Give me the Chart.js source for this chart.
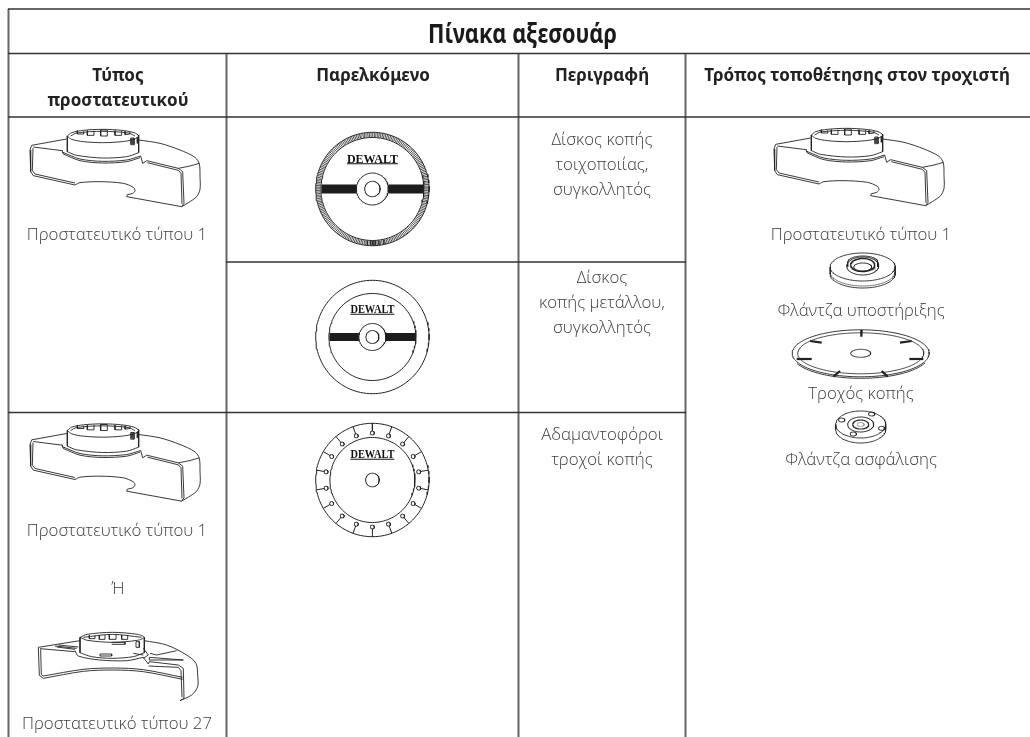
<!DOCTYPE html>
<html><head><meta charset="utf-8">
<style>html,body{margin:0;padding:0;background:#fff}canvas{display:block}</style>
<script src="https://cdn.jsdelivr.net/npm/chart.js@4"></script></head>
<body><canvas id="c" width="1030" height="737"></canvas>
<script>
// ---- table structure (axis values) ----
const tableTitle = "Πίνακα αξεσουάρ";
const headerLabels = ["Τύπος", "προστατευτικού", "Παρελκόμενο", "Περιγραφή", "Τρόπος τοποθέτησης στον τροχιστή"];
const bodyLabels = ["Προστατευτικό τύπου 1","Δίσκος κοπής","τοιχοποιίας,","συγκολλητός","Δίσκος","κοπής μετάλλου,","συγκολλητός","Αδαμαντοφόροι","τροχοί κοπής","Προστατευτικό τύπου 1","Ή","Προστατευτικό τύπου 27","Προστατευτικό τύπου 1","Φλάντζα υποστήριξης","Τροχός κοπής","Φλάντζα ασφάλισης"];
const bodyLabelX = [117,602,602,602,602,602,602,602,602,117,118,117,861,861,861,861];
const bodyLabelY = [240,145,170,195,283,308,333,440,465,536,594,729,240,316,399,465];
const headerLabelX = [118,118,373,602,857];
const headerLabelY = [81,106,81,81,81];
const verticalRules = [[8.5,9,737],[226.5,53,737],[518.5,53,737],[685.5,53,737]];
const horizontalRules = [[8,1030,9],[8,1030,53.5],[8,1030,117],[226,686,262],[8,686,412.5]];
const discCentres = [[372.4,189],[372.4,337],[372.4,480]];

// ---- outline traces, in 1/3 px units of the reference ----
const guardOneCurves = [
 [[202,455],[230,466],[308,474],[380,470],[416,458]],
 [[202,408],[215,398],[250,391],[308,388],[365,391],[402,398],[416,408],[402,418],[365,425],[308,428],[250,425],[215,418],[202,408]],
 [[212,408],[230,399],[308,394],[385,399],[405,408]],
 [[186,456],[240,477],[308,484],[380,480],[422,468]],
 [[190,462],[240,482],[308,489],[380,485],[420,473]],
 [[416,420],[480,430],[540,450],[585,472],[598,492],[600,530],[600,568],[590,590],[565,608],[545,620]],
 [[225,555],[240,548],[300,545],[370,550],[400,562],[405,572],[398,580],[382,584]],
 [[535,505],[570,498],[598,490]]
];
const guardOneEdges = [
 [[95,436],[200,417]],
 [[100,441],[186,452]],
 [[202,408],[202,455]],[[416,405],[416,458]],
 [[186,450],[190,462]],
 [[422,468],[428,490],[440,482],[535,505],[548,515],[552,610],[545,620]],
 [[442,488],[535,511],[543,520],[546,612]],
 [[95,436],[90,450],[92,515],[100,527],[225,555]],
 [[99,444],[97,512],[105,522],[225,549]],
 [[382,584],[380,590],[545,620]],
 [[232,392],[232,402],[252,402],[250,394]],[[262,392],[262,406],[282,406],[282,392]],[[302,390],[302,408],[322,408],[322,390],[302,390]],[[345,392],[345,406],[365,406],[365,392]],[[375,394],[375,404],[390,402],[390,396]],
 [[392,414],[402,414],[402,434],[392,434],[392,414]],[[396,416],[396,432]],[[412,412],[412,430]]
];
const guardTwentySevenCurves = [
 [[240,758],[275,770],[337,775],[400,770],[433,758]],
 [[240,712],[262,703],[337,697],[412,703],[433,712],[412,721],[337,727],[262,721],[240,712]],
 [[250,712],[337,703],[425,712]],
 [[225,752],[235,768],[300,780],[380,782],[430,772]],
 [[433,722],[500,735],[560,765],[588,790],[593,825],[593,860],[575,885],[540,902]],
 [[130,835],[250,814],[340,810],[430,815],[548,838]],
 [[130,828],[250,808],[340,804],[430,809],[548,832]]
];
const guardTwentySevenEdges = [
 [[115,742],[240,722]],
 [[120,746],[225,755]],
 [[240,712],[240,758]],[[433,712],[433,758]],
 [[430,772],[445,792],[448,785],[535,795],[550,805],[552,895],[540,902]],
 [[446,798],[535,802],[543,812],[546,892]],
 [[115,742],[118,826],[130,835]],
 [[122,748],[124,824],[130,828]],
 [[450,760],[470,765],[530,752]],[[448,772],[550,780],[448,780],[448,772]],[[430,745],[445,765],[430,775]],
 [[165,738],[230,745]],[[175,735],[235,741]],[[170,741],[225,748]],[[400,760],[430,765]],[[300,762],[335,762],[335,768],[300,768],[300,762]],[[335,727],[375,727],[375,733],[335,733]],
 [[268,706],[268,716],[285,716],[285,706]],[[298,705],[298,718],[315,718],[315,705]],[[328,704],[328,718],[348,718],[348,704]],[[365,705],[365,718],[383,718],[383,705]],
 [[408,725],[418,725],[418,742],[408,742],[408,725]]
];
const wheelSlots = [[[425,660],[424,680]],[[270,693],[305,698]],[[575,693],[540,698]],[[230,747],[275,747]],[[610,747],[568,747]],[[340,800],[360,783]],[[503,800],[485,783]]];
const lockHoles = [[365,930],[455,912],[485,955],[400,972]];
const notchAngles = [-90,-70,-50,-30,-10,10,30,50,70,90,110,130,150,170,190,210,230,250];
const logoLabel = "DEWALT";
const logoBoxes = [[372.4,162.5,51],[372.4,313,44],[372.4,458,44]];

// ---- building helpers ----
const GAP = {x:NaN,y:NaN};
const sets = [];
function add(points, width, color, tension){
  sets.push({data:points, showLine:true, borderColor:color||'#222', borderWidth:width||1,
    pointRadius:0, tension:tension||0, fill:false, borderCapStyle:'butt'});
}
function ell(cx,cy,rx,ry,a0,a1){
  const p=[]; a0=a0===undefined?0:a0; a1=a1===undefined?360:a1;
  for(let a=a0;a<=a1;a+=3){const t=a*Math.PI/180;p.push({x:cx+rx*Math.cos(t),y:cy+ry*Math.sin(t)});}
  return p;
}
function trace(list,dx,dy,w,t){
  list.forEach(l=>add(l.map(q=>({x:q[0]/3+dx,y:q[1]/3+dy})),w||0.9,'#222',t));
}
horizontalRules.forEach(r=>add([{x:r[0],y:r[2]},{x:r[1],y:r[2]}],1.3,'#333'));
verticalRules.forEach(r=>add([{x:r[0],y:r[1]},{x:r[0],y:r[2]}],2,'#666'));
// disc 1
(function(){const [cx,cy]=discCentres[0];
 add(ell(cx,cy,56.7,56.7),1); add(ell(cx,cy,51.5,51.5),1); add(ell(cx,cy,16,16),1); add(ell(cx,cy,7.7,7.7),1);
 const k=[];for(let a=0;a<360;a+=1.7){const t=a*Math.PI/180;k.push({x:cx+52*Math.cos(t),y:cy+52*Math.sin(t)},{x:cx+56.5*Math.cos(t),y:cy+56.5*Math.sin(t)},GAP);}
 add(k,0.8,'#222');
 add([{x:cx-51,y:cy},{x:cx-16,y:cy}],9,'#1c1c1c'); add([{x:cx+16,y:cy},{x:cx+51,y:cy}],9,'#1c1c1c');
})();
// disc 2
(function(){const [cx,cy]=discCentres[1];
 add(ell(cx,cy,56.7,56.7),1); add(ell(cx,cy,43.5,43.5),1); add(ell(cx,cy,13.5,13.5),1); add(ell(cx,cy,6.5,6.5),1);
 add([{x:cx-43,y:cy},{x:cx-13.5,y:cy}],8,'#1c1c1c'); add([{x:cx+13.5,y:cy},{x:cx+43,y:cy}],8,'#1c1c1c');
})();
// disc 3
(function(){const [cx,cy]=discCentres[2];
 add(ell(cx,cy,56.7,56.7),1); add(ell(cx,cy,42.5,42.5),1); add(ell(cx,cy,6.8,6.8),1);
 notchAngles.forEach(a=>{const t=a*Math.PI/180,c=Math.cos(t),s=Math.sin(t);
  add([{x:cx+56.7*c,y:cy+56.7*s},{x:cx+49*c,y:cy+49*s}],1);
  add(ell(cx+47*c,cy+47*s,2,2),0.9);
 });
})();
// guards
[[0,0],[0,294.5],[744,-1]].forEach(o=>{trace(guardOneCurves,o[0],o[1],0.9,0.3);trace(guardOneEdges,o[0],o[1],0.9,0);});
trace(guardTwentySevenCurves,0,400,0.9,0.3);trace(guardTwentySevenEdges,0,400,0.9,0);
// backing flange
(function(){const cx=862.7,cy=267;
 add(ell(cx,cy,32.5,14),0.9); add(ell(cx,cy+7,32.5,14,0,180),0.9); add(ell(cx,cy+5,32.5,14,0,180),0.6);
 add([{x:cx-32.5,y:cy},{x:cx-32.5,y:cy+7}],0.9); add([{x:cx+32.5,y:cy},{x:cx+32.5,y:cy+7}],0.9);
 add(ell(cx,cy-1,16,9),1); add(ell(cx,cy-2,12,6.5),1.4); add(ell(cx,cy,9,4),1); add(ell(cx,cy-5,15,6,180,360),1);
 add([{x:cx-15,y:cy-5},{x:cx-15,y:cy}],1); add([{x:cx+15,y:cy-5},{x:cx+15,y:cy}],1);
})();
// cutting wheel
(function(){const cx=860.7,cy=353.3;
 add(ell(cx,cy,68.5,23.5),0.9); add(ell(cx,cy,63,20.5),0.8); add(ell(cx,cy+1.5,68.5,23.5,20,160),0.9); add(ell(cx,cy,10,4),0.9);
 wheelSlots.forEach(s=>{add(s.map(q=>({x:q[0]/3+720,y:q[1]/3+110})),2.2);add(s.map(q=>({x:q[0]/3+720,y:q[1]/3+110})),0.8,'#fff');});
})();
// locking flange
(function(){const cx=860.7,cy=424.5;
 add(ell(cx,cy,25,13.5),0.9); add(ell(cx,cy+5,25,13.5,0,180),0.9);
 add([{x:cx-25,y:cy},{x:cx-25,y:cy+5}],0.9); add([{x:cx+25,y:cy},{x:cx+25,y:cy+5}],0.9);
 add(ell(cx,cy,13,7.5),1); add(ell(cx,cy,8,4.5),1.1); add(ell(cx,cy,3.5,2),0.8,'#888');
 lockHoles.forEach(h=>add(ell(h[0]/3+720,h[1]/3+110,3.2,2),0.9));
})();
// logo rules
logoBoxes.forEach(b=>{add([{x:b[0]-b[2]/2,y:b[1]+1.2},{x:b[0]+b[2]/2,y:b[1]+1.2}],1.1,'#111');});

const BODY="300 16.8px 'Open Sans'", HEAD="bold 17px 'Noto Sans'", TITLE="bold 26px 'Noto Sans'", LOGO="bold 13px 'Liberation Serif'";
const textPlugin={id:'tableText',afterDatasetsDraw(ch){
  const ctx=ch.ctx,X=ch.scales.x,Y=ch.scales.y;
  const put=(t,x,y,f,c)=>{ctx.font=f;ctx.fillStyle=c;ctx.fillText(t,X.getPixelForValue(x),Y.getPixelForValue(y));};
  const fit=(t,x,y,f,c,w)=>{ctx.save();ctx.font=f;ctx.fillStyle=c;const m=ctx.measureText(t).width;
    ctx.translate(X.getPixelForValue(x),Y.getPixelForValue(y));ctx.scale(w/m,1);ctx.fillText(t,0,0);ctx.restore();};
  ctx.save();ctx.textAlign='center';ctx.textBaseline='alphabetic';
  fit(tableTitle,522.5,43,TITLE,'#1a1a1a',189);
  headerLabels.forEach((t,i)=>put(t,headerLabelX[i],headerLabelY[i],HEAD,'#222'));
  bodyLabels.forEach((t,i)=>put(t,bodyLabelX[i],bodyLabelY[i],BODY,'#3c3c3c'));
  logoBoxes.forEach(b=>fit(logoLabel,b[0],b[1],LOGO,'#111',b[2]));
  ctx.restore();
}};
new Chart(document.getElementById('c'),{
  type:'scatter',
  data:{datasets:sets},
  plugins:[textPlugin],
  options:{responsive:false,animation:false,
    layout:{padding:0},
    plugins:{legend:{display:false},tooltip:{enabled:false},title:{display:false}},
    scales:{x:{type:'linear',display:false,min:0,max:1030},y:{type:'linear',display:false,min:0,max:737,reverse:true}}
  }
});
</script></body></html>
